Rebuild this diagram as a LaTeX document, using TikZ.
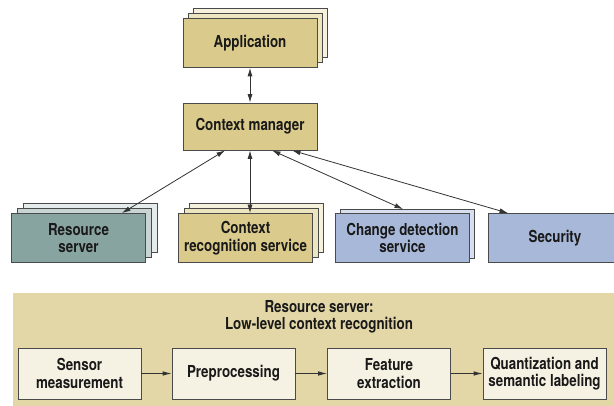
\documentclass[tikz,border=0pt]{standalone}
\usepackage{fontspec}
\setmainfont{TeX Gyre Heros}[FakeStretch=0.81]
\usetikzlibrary{arrows.meta}
\definecolor{boxline}{HTML}{4A4A4A}
\definecolor{tanA}{HTML}{DACA8C}
\definecolor{tanB}{HTML}{EDE4C0}
\definecolor{tanC}{HTML}{F6F1DD}
\definecolor{tealA}{HTML}{88A4A0}
\definecolor{tealB}{HTML}{C8D5D3}
\definecolor{tealC}{HTML}{E4EBEA}
\definecolor{blueA}{HTML}{A8B8D8}
\definecolor{blueB}{HTML}{D7DEEE}
\definecolor{panel}{HTML}{E3D7A7}
\definecolor{cream}{HTML}{F6F2E3}
\begin{document}
\begin{tikzpicture}
[x=1pt,y=-1pt,
box/.style={rectangle,draw=boxline,line width=0.8pt,minimum width=134pt,minimum height=49pt,inner sep=0pt,align=center,font=\bfseries\fontsize{16.5}{17.5}\selectfont,text=black!90},
stage/.style={box,fill=cream,minimum width=123pt,minimum height=51pt},
link/.style={draw=black!80,line width=0.8pt,{Latex[length=8.5pt,width=5pt]}-{Latex[length=8.5pt,width=5pt]}},
flow/.style={draw=black!80,line width=0.8pt,-{Latex[length=9pt,width=4.5pt]}}]
\clip (0,0) rectangle (614,406);
\fill[white] (0,0) rectangle (614,406);

\node[box,fill=tanC] (app3) at (260,33) {};
\node[box,fill=tanB] (app2) at (255,38) {};
\node[box,fill=tanA] (app) at (250,43) {Application};
\node[box,fill=tanA,minimum height=47pt] (cm) at (250,126.5) {Context manager};

\node[box,fill=tealC] (rs3) at (90,228) {};
\node[box,fill=tealB] (rs2) at (84,233) {};
\node[box,fill=tealA] (rs) at (78.5,238) {Resource\\server};

\node[box,fill=tanC] (crs3) at (256.5,228) {};
\node[box,fill=tanB] (crs2) at (251,233) {};
\node[box,fill=tanA] (crs) at (245.5,238) {Context\\recognition service};

\node[box,fill=blueB] (cds2) at (407.5,234) {};
\node[box,fill=blueA] (cds) at (402.5,238) {Change detection\\service};

\node[box,fill=blueA] (sec) at (555,238) {Security};

\draw[link] (app.south) -- (cm.north);
\draw[link] ([xshift=-25pt]cm.south) -- ([xshift=43.5pt]rs.north);
\draw[link] (cm.south) -- (cm.south |- crs.north);
\draw[link] ([xshift=22pt]cm.south) -- ([xshift=-4.5pt]cds2.north);
\draw[link] ([xshift=42pt]cm.south) -- ([xshift=-47pt]sec.north);

\fill[panel] (13,293) rectangle (620,412);
\node[font=\bfseries\fontsize{16.5}{17}\selectfont,text=black!90,align=center] (title) at (319,317) {Resource server:\\Low-level context recognition};

\node[stage] (sensor) at (79.5,373.5) {Sensor\\measurement};
\node[stage] (prep) at (233.5,373.5) {Preprocessing};
\node[stage] (feat) at (389,373.5) {Feature\\extraction};
\node[stage] (quant) at (544.5,373.5) {Quantization and\\semantic labeling};

\foreach \a / \b in {sensor/prep,prep/feat,feat/quant}
{
	\draw[flow] (\a.east) -- (\b.west);
}
\end{tikzpicture}
\end{document}
